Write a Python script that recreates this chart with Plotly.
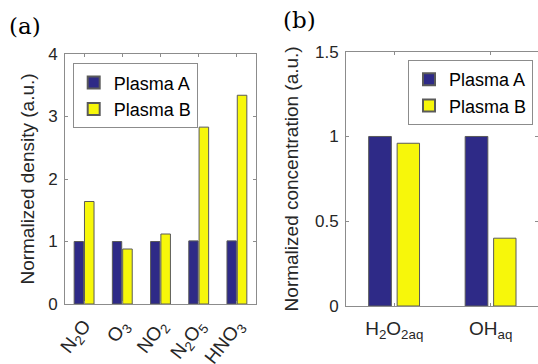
import plotly.graph_objects as go

# ---- data ----
species = ["N<sub>2</sub>O", "O<sub>3</sub>", "NO<sub>2</sub>", "N<sub>2</sub>O<sub>5</sub>", "HNO<sub>3</sub>"]
density_A = [1.0, 1.0, 1.0, 1.01, 1.01]
density_B = [1.64, 0.88, 1.12, 2.83, 3.34]

aq_species = ["H<sub>2</sub>O<sub>2aq</sub>", "OH<sub>aq</sub>"]
conc_A = [1.0, 1.0]
conc_B = [0.96, 0.40]

series_names = ["Plasma A", "Plasma B"]
y_ticks_a = [0, 1, 2, 3, 4]
y_ticks_b = [0, 0.5, 1, 1.5]
y_ticktext_b = ["0", "0.5", "1", "1.5"]

# ---- style ----
BLUE = "#2E2A87"
YELLOW = "#F7F70A"
EDGE = "#5a5a5a"
FRAME = "#8c8c8c"
TXT = "#262626"
FONT = "Liberation Sans, Arial, sans-serif"

W, H = 538, 364

xa = list(range(1, len(species) + 1))
xb = list(range(1, len(aq_species) + 1))

fig = go.Figure()

fig.add_trace(go.Bar(x=xa, y=density_A, name=series_names[0], marker=dict(color=BLUE, line=dict(color=EDGE, width=1)),
                     width=0.245, offset=-0.26, xaxis="x", yaxis="y", legend="legend"))
fig.add_trace(go.Bar(x=xa, y=density_B, name=series_names[1], marker=dict(color=YELLOW, line=dict(color=EDGE, width=1)),
                     width=0.25, offset=0.01, xaxis="x", yaxis="y", legend="legend"))

fig.add_trace(go.Bar(x=xb, y=conc_A, name=series_names[0], marker=dict(color=BLUE, line=dict(color=EDGE, width=1)),
                     width=0.235, offset=-0.265, xaxis="x2", yaxis="y2", legend="legend2"))
fig.add_trace(go.Bar(x=xb, y=conc_B, name=series_names[1], marker=dict(color=YELLOW, line=dict(color=EDGE, width=1)),
                     width=0.232, offset=0.03, xaxis="x2", yaxis="y2", legend="legend2"))

axis_common = dict(showline=True, linecolor=FRAME, linewidth=1, mirror="ticks", ticks="inside",
                   ticklen=3, tickcolor=FRAME, showgrid=False, zeroline=False, automargin=False)
tick_font = dict(family=FONT, size=17, color=TXT)
big_tick_font = dict(family=FONT, size=19, color=TXT)

fig.update_layout(
    width=W, height=H,
    margin=dict(l=0, r=0, t=0, b=0, autoexpand=False),
    paper_bgcolor="white", plot_bgcolor="white",
    barmode="overlay",
    font=dict(family=FONT, color=TXT),
    xaxis=dict(domain=[65 / W, 256 / W], range=[0.5, 5.5], tickvals=xa, ticktext=species,
               tickangle=-52, anchor="y", ticklabelstandoff=2, tickfont=big_tick_font, **axis_common),
    yaxis=dict(domain=[(H - 304) / H, (H - 54) / H], range=[0, 4], tickvals=y_ticks_a, anchor="x",
               ticklabelstandoff=3, tickfont=tick_font,
               title=dict(text="Normalized density (a.u.)", font=dict(family=FONT, size=19, color=TXT), standoff=8),
               **axis_common),
    xaxis2=dict(domain=[346 / W, 1.0], range=[0.5, 2.49], tickvals=xb, ticktext=aq_species,
                anchor="y2", ticklabelstandoff=5, tickfont=big_tick_font, **axis_common),
    yaxis2=dict(domain=[(H - 306) / H, (H - 51.7) / H], range=[0, 1.5], tickvals=y_ticks_b, ticktext=y_ticktext_b,
                anchor="x2", ticklabelstandoff=3, tickfont=tick_font,
                title=dict(text="Normalized concentration (a.u.)", font=dict(family=FONT, size=19, color=TXT), standoff=11),
                **axis_common),
    legend=dict(x=72.7 / W, y=(H - 63.3) / H, xanchor="left", yanchor="top",
                bordercolor=FRAME, borderwidth=1, bgcolor="white",
                font=dict(family=FONT, size=18, color="black"), tracegroupgap=0, itemsizing="constant"),
    legend2=dict(x=533 / W, y=(H - 60) / H, xanchor="right", yanchor="top",
                 bordercolor=FRAME, borderwidth=1, bgcolor="white",
                 font=dict(family=FONT, size=18, color="black"), tracegroupgap=0, itemsizing="constant"),
    annotations=[
        dict(text="(a)", x=7 / W, y=(H - 11) / H, xref="paper", yref="paper", xanchor="left", yanchor="top",
             showarrow=False, font=dict(family="DejaVu Serif, serif", size=23, color="black")),
        dict(text="(b)", x=281 / W, y=(H - 5) / H, xref="paper", yref="paper", xanchor="left", yanchor="top",
             showarrow=False, font=dict(family="DejaVu Serif, serif", size=23, color="black")),
    ],
    showlegend=True,
)

fig.write_html("out.html", config={"displayModeBar": False},
               post_script="document.body.style.margin='0';document.body.style.overflow='hidden';")
